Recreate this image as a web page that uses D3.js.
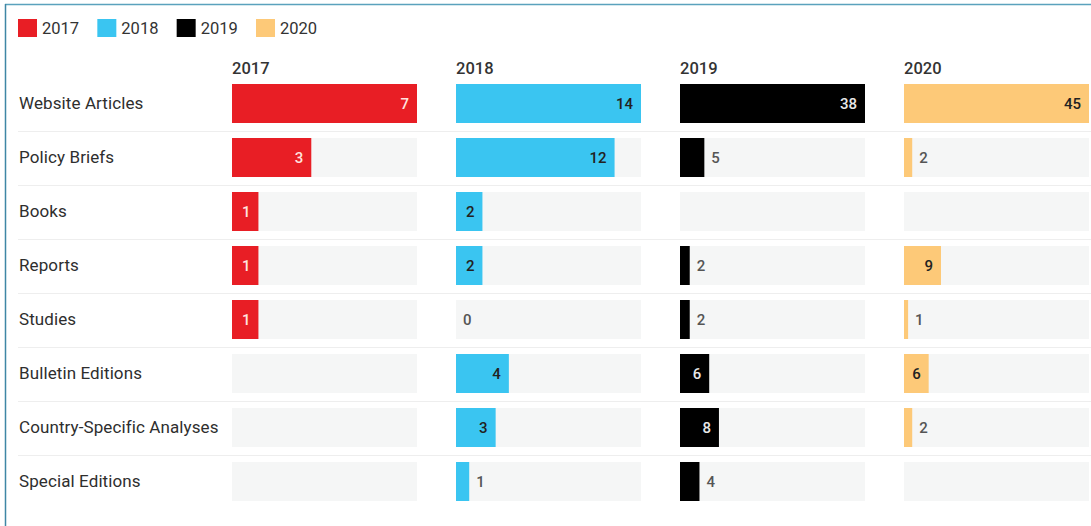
<!DOCTYPE html>
<html>
<head>
<meta charset="utf-8">
<script src="https://cdn.jsdelivr.net/npm/d3@7"></script>
<style>
  html, body { margin: 0; padding: 0; background: #fff; }
  svg { display: block; font-family: Roboto, "Noto Sans", sans-serif; }
</style>
</head>
<body>
<svg id="chart" width="1091" height="526"></svg>
<script>
// Publication types (rows)
const categories = [
  "Website Articles", "Policy Briefs", "Books", "Reports",
  "Studies", "Bulletin Editions", "Country-Specific Analyses", "Special Editions"
];
// Years (columns / legend)
const years = ["2017", "2018", "2019", "2020"];
// Counts per year, null where nothing was published
const values2017 = [7, 3, 1, 1, 1, null, null, null];
const values2018 = [14, 12, 2, 2, 0, 4, 3, 1];
const values2019 = [38, 5, null, 2, 2, 6, 8, 4];
const values2020 = [45, 2, null, 9, 1, 6, 2, null];
const seriesValues = [values2017, values2018, values2019, values2020];

const colors = ["#e81e25", "#3ac5f1", "#000000", "#fdc978"];
const insideText = ["#ffe3df", "#222222", "#e8e8e8", "#222222"];

const svg = d3.select("#chart");
const W = 1091, H = 526;

// frame
svg.append("line").attr("x1", 5).attr("x2", W).attr("y1", 4.5).attr("y2", 4.5)
  .attr("stroke", "#5aa2bd").attr("stroke-width", 1.5);
svg.append("line").attr("x1", 5.5).attr("x2", 5.5).attr("y1", 4).attr("y2", H)
  .attr("stroke", "#3f86a5").attr("stroke-width", 1.5);

// legend
const legend = svg.append("g").attr("transform", "translate(18,19)");
const legX = d3.scalePoint().domain(years).range([0, 238]);
years.forEach((y, i) => {
  const g = legend.append("g").attr("transform", `translate(${legX(y)},0)`);
  g.append("rect").attr("width", 19).attr("height", 18).attr("fill", colors[i]);
  g.append("text").attr("x", 24).attr("y", 15).attr("font-size", 16.5)
    .attr("fill", "#333").text(y);
});

// layout scales: 54px row step, 39px bars
const colX = d3.scaleBand().domain(years).range([232, 1128]);
const colW = 185;
const rowStep = 54, barH = 39;
const rowY = d3.scaleBand().domain(categories)
  .range([84, 84 + rowStep * (categories.length - 1) + barH])
  .paddingInner((rowStep - barH) / rowStep).paddingOuter(0);
const bh = rowY.bandwidth();
const step = rowY.step();

// separators between rows
categories.slice(1).forEach(c => {
  const y = Math.round(rowY(c) - (step - bh) / 2) + 0.5;
  svg.append("line").attr("x1", 18).attr("x2", W).attr("y1", y).attr("y2", y)
    .attr("stroke", "#eeeeee").attr("stroke-width", 1);
});

// row labels
svg.append("g").selectAll("text").data(categories).join("text")
  .attr("x", 19).attr("y", d => rowY(d) + bh / 2 + 5.5)
  .attr("font-size", 17).attr("letter-spacing", 0.1)
  .attr("fill", "#2e2e2e").text(d => d);

// columns
years.forEach((yr, i) => {
  const x0 = colX(yr);
  const vals = seriesValues[i];
  const x = d3.scaleLinear().domain([0, d3.max(vals)]).range([0, colW]);
  const g = svg.append("g").attr("transform", `translate(${x0},0)`);

  g.append("text").attr("x", 0).attr("y", 74).attr("font-size", 16.5)
    .attr("font-weight", 500).attr("fill", "#333").text(yr);

  const rows = categories.map((c, k) => ({ c, v: vals[k] }));

  g.selectAll("rect.bg").data(rows).join("rect").attr("class", "bg")
    .attr("x", 0).attr("y", d => rowY(d.c)).attr("width", colW).attr("height", bh)
    .attr("fill", "#f5f6f6");

  const present = rows.filter(d => d.v !== null);
  g.selectAll("rect.bar").data(present).join("rect").attr("class", "bar")
    .attr("x", 0).attr("y", d => rowY(d.c)).attr("width", d => x(d.v)).attr("height", bh)
    .attr("fill", colors[i]);

  // value labels: inside the bar when it is wide enough, otherwise just past its end
  g.selectAll("text.val").data(present).join("text").attr("class", "val")
    .each(function (d) {
      const w = x(d.v);
      const inside = w >= 24.5;
      d3.select(this)
        .attr("x", inside ? w - 8 : w + 7)
        .attr("text-anchor", inside ? "end" : "start")
        .attr("fill", inside ? insideText[i] : "#555")
        .attr("font-weight", 500);
    })
    .attr("y", d => rowY(d.c) + bh / 2 + 5.5)
    .attr("font-size", 15)
    .text(d => d.v);
});
</script>
</body>
</html>
